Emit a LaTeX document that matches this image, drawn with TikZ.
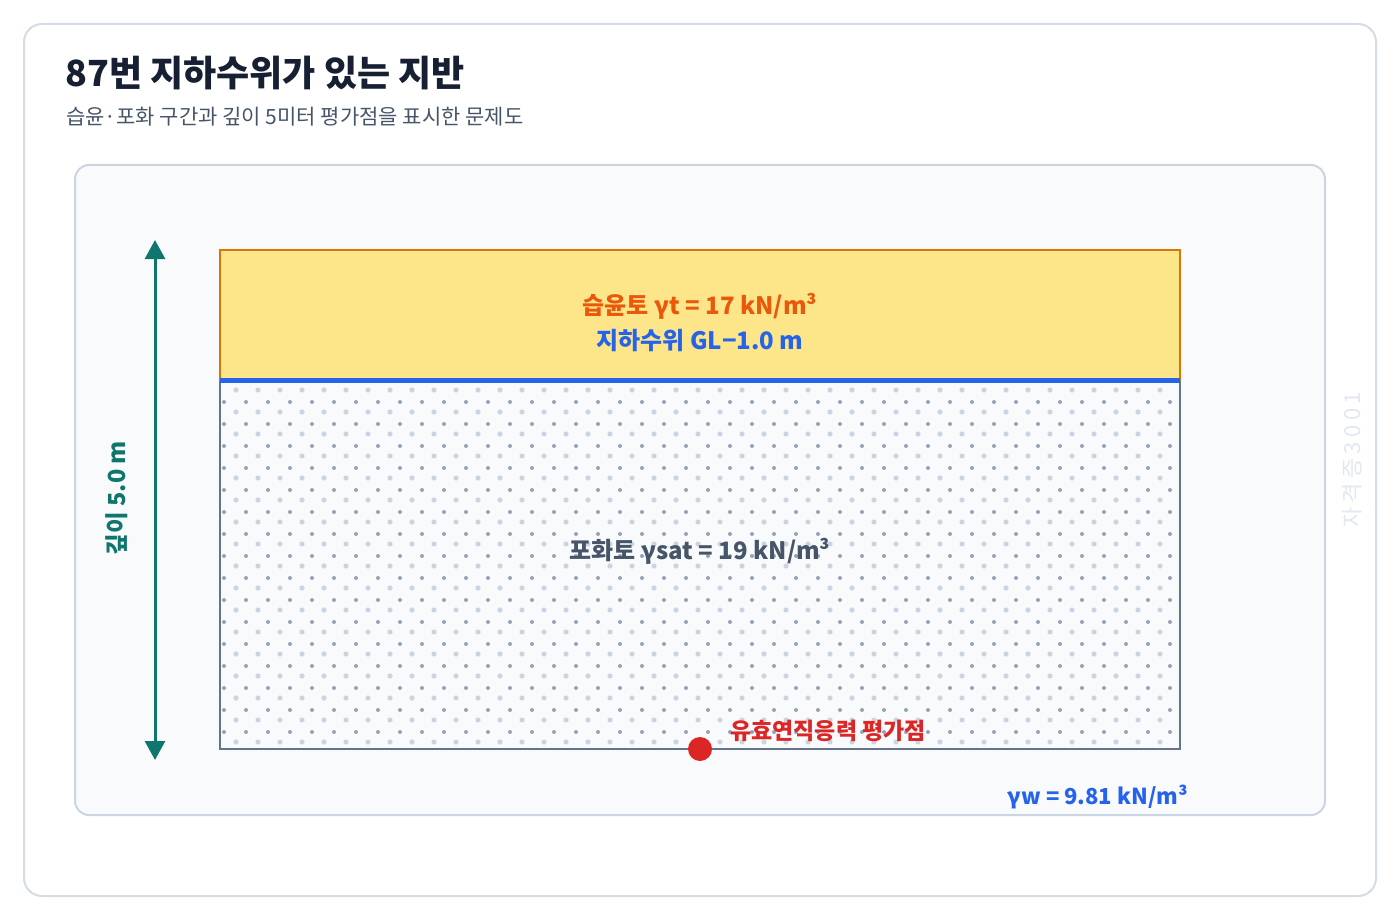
\documentclass[tikz,border=0pt]{standalone}
\usepackage{fontspec}
\setmainfont{Noto Sans CJK KR}
\usetikzlibrary{arrows.meta}
\definecolor{cardline}{HTML}{D5DCE6}
\definecolor{panelfill}{HTML}{F8FAFC}
\definecolor{panelline}{HTML}{CBD5E1}
\definecolor{titlecol}{HTML}{172033}
\definecolor{subcol}{HTML}{475569}
\definecolor{wetfill}{HTML}{FDE68A}
\definecolor{wetedge}{HTML}{D97706}
\definecolor{wetcol}{HTML}{EA580C}
\definecolor{watercol}{HTML}{2563EB}
\definecolor{satedge}{HTML}{64748B}
\definecolor{dotdark}{HTML}{94A3B8}
\definecolor{dotlight}{HTML}{CBD5E1}
\definecolor{evalcol}{HTML}{DC2626}
\definecolor{depthcol}{HTML}{0F766E}
\definecolor{markcol}{HTML}{E2E8F0}

\tikzset{
  titletext/.style={font=\bfseries\fontsize{36}{40}\selectfont, text=titlecol, inner sep=0pt},
  subtext/.style={font=\fontsize{21}{24}\selectfont, text=subcol, inner sep=0pt},
  lbl/.style={font=\bfseries\fontsize{24}{28}\selectfont, inner sep=0pt},
  panel/.style={draw=panelline, line width=2pt, fill=panelfill, rounded corners=14pt},
  wetbox/.style={draw=wetedge, line width=2pt, fill=wetfill},
  satbox/.style={draw=satedge, line width=2.5pt},
  waterline/.style={draw=watercol, line width=5pt},
  dimarrow/.style={draw=depthcol, line width=3pt, {Triangle[length=19pt,width=20pt]}-{Triangle[length=19pt,width=20pt]}},
  evaldot/.style={circle, fill=evalcol, minimum size=24pt, inner sep=0pt}
}

\begin{document}
\begin{tikzpicture}[x=1pt,y=-1pt]
\useasboundingbox (0,0) rectangle (1400,920);
\fill[white] (0,0) rectangle (1400,920);

% card and heading
\draw[draw=cardline, line width=2pt, rounded corners=18pt, fill=white] (24,24) rectangle (1376,896);
\node[titletext, anchor=base west] (title) at (65,87) {87번 지하수위가 있는 지반};
\node[subtext, anchor=base west] (subtitle) at (66,125) {습윤·포화 구간과 깊이 5미터 평가점을 표시한 문제도};

% drawing panel
\draw[panel] (75,165) rectangle (1325,815);

% saturated soil with dots
\fill[panelfill] (220,380) rectangle (1180,749);
\begin{scope}
  \clip (221,382) rectangle (1179,748);
  \foreach \i in {0,...,43}
    \foreach \j in {0,...,16}{
      \fill[dotlight] (236+22*\i,390+22*\j) circle[radius=2.6pt];
      \fill[dotdark] (224+22*\i,402+22*\j) circle[radius=2pt];
    }
\end{scope}
\draw[satbox] (220,380) rectangle (1180,749);

% wet soil and water table
\draw[wetbox] (220,250) rectangle (1180,380);
\draw[waterline] (220,380) -- (1180,380);

\node[lbl, text=wetcol] (wetlbl) at (700,306) {습윤토 γt = 17 kN/m³};
\node[lbl, text=watercol] (gwlbl) at (700,341) {지하수위 GL−1.0 m};
\node[lbl, text=subcol] (satlbl) at (700,551) {포화토 γsat = 19 kN/m³};

% evaluation point
\node[evaldot] (evalpt) at (700,749) {};
\node[lbl, font=\bfseries\fontsize{23}{26}\selectfont, text=evalcol, anchor=west] (evallbl) at (730,731) {유효연직응력 평가점};

% unit weight of water
\node[lbl, font=\bfseries\fontsize{22}{26}\selectfont, text=watercol, anchor=east] (gammaw) at (1188,797) {γw = 9.81 kN/m³};

% depth dimension
\coordinate (dtop) at (155,240);
\coordinate (dbot) at (155,760);
\draw[dimarrow] (dtop) -- (dbot);
\node[lbl, font=\bfseries\fontsize{23.5}{26}\selectfont, text=depthcol, rotate=90] (depthlbl) at (117,498) {깊이 5.0 m};

% watermark
\node[font=\fontsize{22}{26}\selectfont\addfontfeature{LetterSpace=20}, text=markcol, rotate=90, inner sep=0pt] (mark) at (1352,460) {자격증3001};
\end{tikzpicture}
\end{document}
